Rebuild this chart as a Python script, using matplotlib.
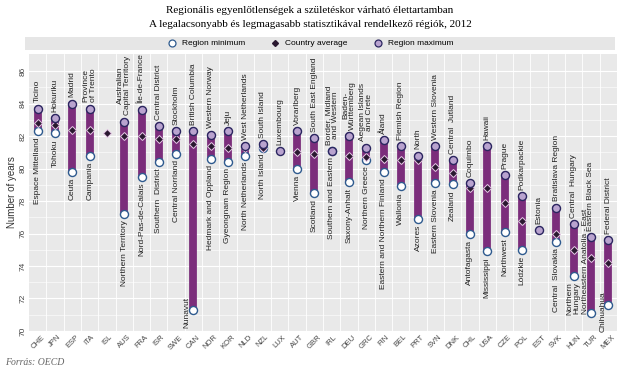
import numpy as np
import matplotlib
matplotlib.use("Agg")
import matplotlib.pyplot as plt
from matplotlib.lines import Line2D
from matplotlib.patches import Rectangle

nan = np.nan

countries = ["CHE", "JPN", "ESP", "ITA", "ISL", "AUS", "FRA", "ISR", "SWE", "CAN",
             "NOR", "KOR", "NLD", "NZL", "LUX", "AUT", "GBR", "IRL", "DEU", "GRC",
             "FIN", "BEL", "PRT", "SVN", "DNK", "CHL", "USA", "CZE", "POL", "EST",
             "SVK", "HUN", "TUR", "MEX"]

region_min = [82.3, 82.2, 79.8, 80.8, nan, 77.2, 79.5, 80.4, 80.9, 71.3,
              80.6, 80.4, 80.8, 81.3, nan, 80.0, 78.5, 81.1, 79.2, 80.5,
              79.8, 78.9, 76.9, 79.1, 79.05, 76.0, 74.9, 76.1, 75.0, nan,
              75.5, 73.4, 71.1, 71.6]

country_avg = [82.8, 82.7, 82.4, 82.4, 82.2, 82.0, 82.0, 81.8, 81.8, 81.5,
               81.4, 81.3, 81.25, 81.25, nan, 81.0, 80.9, 81.05, 80.8, 80.7,
               80.6, 80.5, 80.5, 80.1, 79.7, 78.8, 78.8, 77.9, 76.8, nan,
               76.0, 75.0, 74.5, 74.2]

region_max = [83.7, 83.1, 84.0, 83.7, nan, 82.9, 83.6, 82.6, 82.3, 82.3,
              82.1, 82.3, 81.4, 81.5, 81.1, 82.3, 81.9, 81.1, 82.0, 81.3,
              81.75, 81.4, 80.8, 81.4, 80.5, 79.1, 81.4, 79.6, 78.3, 76.2,
              77.6, 76.6, 75.8, 75.6]

max_labels = ["Ticino", "Hokuriku", "Madrid", "Province\nof Trento", "",
              "Australian\nCapital Territory", "Île-de-France", "Central District",
              "Stockholm", "British Columbia", "Western Norway", "Jeju",
              "West Netherlands", "South Island", "Luxembourg", "Vorarlberg",
              "South East England", "Border, Midland\nand Western",
              "Baden-\nWürttemberg", "Aegean Islands\nand Crete", "Åland",
              "Flemish Region", "North", "Western Slovenia", "Central  Jutland",
              "Coquimbo", "Hawaii", "Prague", "Podkarpackie", "Estonia",
              "Bratislava Region", "Central  Hungary", "Eastern Black Sea",
              "Federal District"]

min_labels = ["Espace Mittelland", "Tohoku", "Ceuta", "Campania", "",
              "Northern Territory", "Nord-Pas-de-Calais", "Southern  District",
              "Central Norrland", "Nunavut", "Hedmark and Oppland",
              "Gyeongnam Region", "North Netherlands", "North Island", "",
              "Vienna", "Scotland", "Southern and Eastern", "Saxony-Anhalt",
              "Northern Greece", "Eastern and Northern Finland", "Wallonia",
              "Azores", "Eastern Slovenia", "Zealand", "Antofagasta",
              "Mississippi", "Northwest", "Lódzkie", "", "Central  Slovakia",
              "Northern\nHungary", "Northeastern Anatolia - East", "Chihuahua"]

BAR = "#7b2d7b"
MAXC = "#b9a3cf"
EDGE = "#2b2660"
MINEDGE = "#2f5b8f"
TXT = "#222222"
SANS = ["Liberation Sans", "DejaVu Sans"]
SERIF = ["Liberation Serif", "DejaVu Serif"]

fig = plt.figure(figsize=(6.2, 3.71), dpi=100)
ax = fig.add_axes([0.047, 0.108, 0.948, 0.746])
ax.set_facecolor("#e9e9e9")

x = np.arange(len(countries))
lo = np.array(region_min, dtype=float)
hi = np.array(region_max, dtype=float)
avg = np.array(country_avg, dtype=float)

# range bars, then the three kinds of points on top
ax.vlines(x, lo, hi, color=BAR, linewidth=5.6, capstyle="round", zorder=3)
ax.plot(x, lo, "o", ms=5.8, mfc="white", mec=MINEDGE, mew=1.0, ls="none", zorder=4)
ax.plot(x, avg, "D", ms=4.3, mfc="#2a1830", mec="#e6c8e6", mew=0.7, ls="none", zorder=5)
ax.plot(x, hi, "o", ms=5.8, mfc=MAXC, mec=EDGE, mew=1.0, ls="none", zorder=6)

# region labels
for i in range(len(countries)):
    if max_labels[i]:
        ax.annotate(max_labels[i], (x[i], hi[i]), xytext=(0, 4.5),
                    textcoords="offset points", rotation=90, ha="center",
                    va="bottom", fontsize=6, family=SANS, color=TXT,
                    linespacing=1.0, zorder=7)
    if min_labels[i]:
        name = min_labels[i]
        if name == "Nunavut":
            ax.annotate(name, (x[i], 70.2), xytext=(-5, 0),
                        textcoords="offset points", rotation=90, ha="center",
                        va="bottom", fontsize=6, family=SANS, color=TXT, zorder=7)
        elif name == "Northeastern Anatolia - East":
            ax.annotate(name, (x[i], lo[i]), xytext=(-4, -1),
                        textcoords="offset points", rotation=90, ha="center",
                        va="bottom", fontsize=6, family=SANS, color=TXT, zorder=7)
        elif name == "Chihuahua":
            ax.annotate(name, (x[i], lo[i]), xytext=(-4, -5),
                        textcoords="offset points", rotation=90, ha="center",
                        va="center", fontsize=6, family=SANS, color=TXT, zorder=7)
        else:
            ax.annotate(name, (x[i], lo[i]), xytext=(0, -4.5),
                        textcoords="offset points", rotation=90, ha="center",
                        va="top", fontsize=6, family=SANS, color=TXT,
                        linespacing=1.0, zorder=7)

ax.set_xlim(-0.5, len(countries) - 0.5)
ax.set_ylim(70, 87.05)
ax.set_yticks(np.arange(70, 87, 2))
ax.set_yticks(np.arange(70, 87, 1), minor=True)
ax.set_xticks(x)
ax.set_xticklabels(countries, rotation=45, fontsize=5.5, family=SANS, color="#444444")
ax.set_xticks(x + 0.5, minor=True)
for lab in ax.get_yticklabels():
    lab.set_rotation(90)
    lab.set_va("center")
    lab.set_fontsize(6)
    lab.set_family(SANS)
    lab.set_color("#444444")
ax.tick_params(axis="both", which="both", length=0, pad=2)
ax.grid(True, which="major", axis="y", color="white", linewidth=0.8, zorder=0)
ax.grid(True, which="minor", axis="y", color="white", linewidth=0.4, zorder=0)
ax.grid(True, which="minor", axis="x", color="white", linewidth=0.6, zorder=0)
ax.set_axisbelow(True)
for s in ax.spines.values():
    s.set_visible(False)
ax.set_ylabel("Number of years", fontsize=7, family=SANS, color="#333333", labelpad=2)

# title
fig.text(0.5, 0.972, "Regionális egyenlőtlenségek a születéskor várható élettartamban",
         ha="center", va="center", fontsize=8, family=SERIF)
fig.text(0.5, 0.934, "A legalacsonyabb és legmagasabb statisztikával rendelkező régiók, 2012",
         ha="center", va="center", fontsize=8, family=SERIF)

# legend band
fig.patches.append(Rectangle((25 / 620, 1 - 50 / 371), 590 / 620, 13 / 371,
                             transform=fig.transFigure, facecolor="#e6e6e6",
                             edgecolor="none", zorder=0))
handles = [
    Line2D([], [], marker="o", ls="none", ms=5, mfc="white", mec=MINEDGE, mew=0.9),
    Line2D([], [], marker="D", ls="none", ms=3, mfc="#2a1830", mec="#2a1830"),
    Line2D([], [], marker="o", ls="none", ms=5, mfc=MAXC, mec=EDGE, mew=0.9),
]
fig.legend(handles, ["Region minimum", "Country average", "Region maximum"],
           loc="center", bbox_to_anchor=(0.5, 1 - 43.5 / 371), ncol=3,
           frameon=False, prop={"family": SANS, "size": 6}, handletextpad=0.6,
           columnspacing=3.0, handlelength=1.2)

fig.text(0.008, 0.022, "Forrás: OECD", ha="left", va="center", fontsize=7,
         style="italic", color="#666666", family=SERIF)

fig.savefig("out.png", dpi=100)
